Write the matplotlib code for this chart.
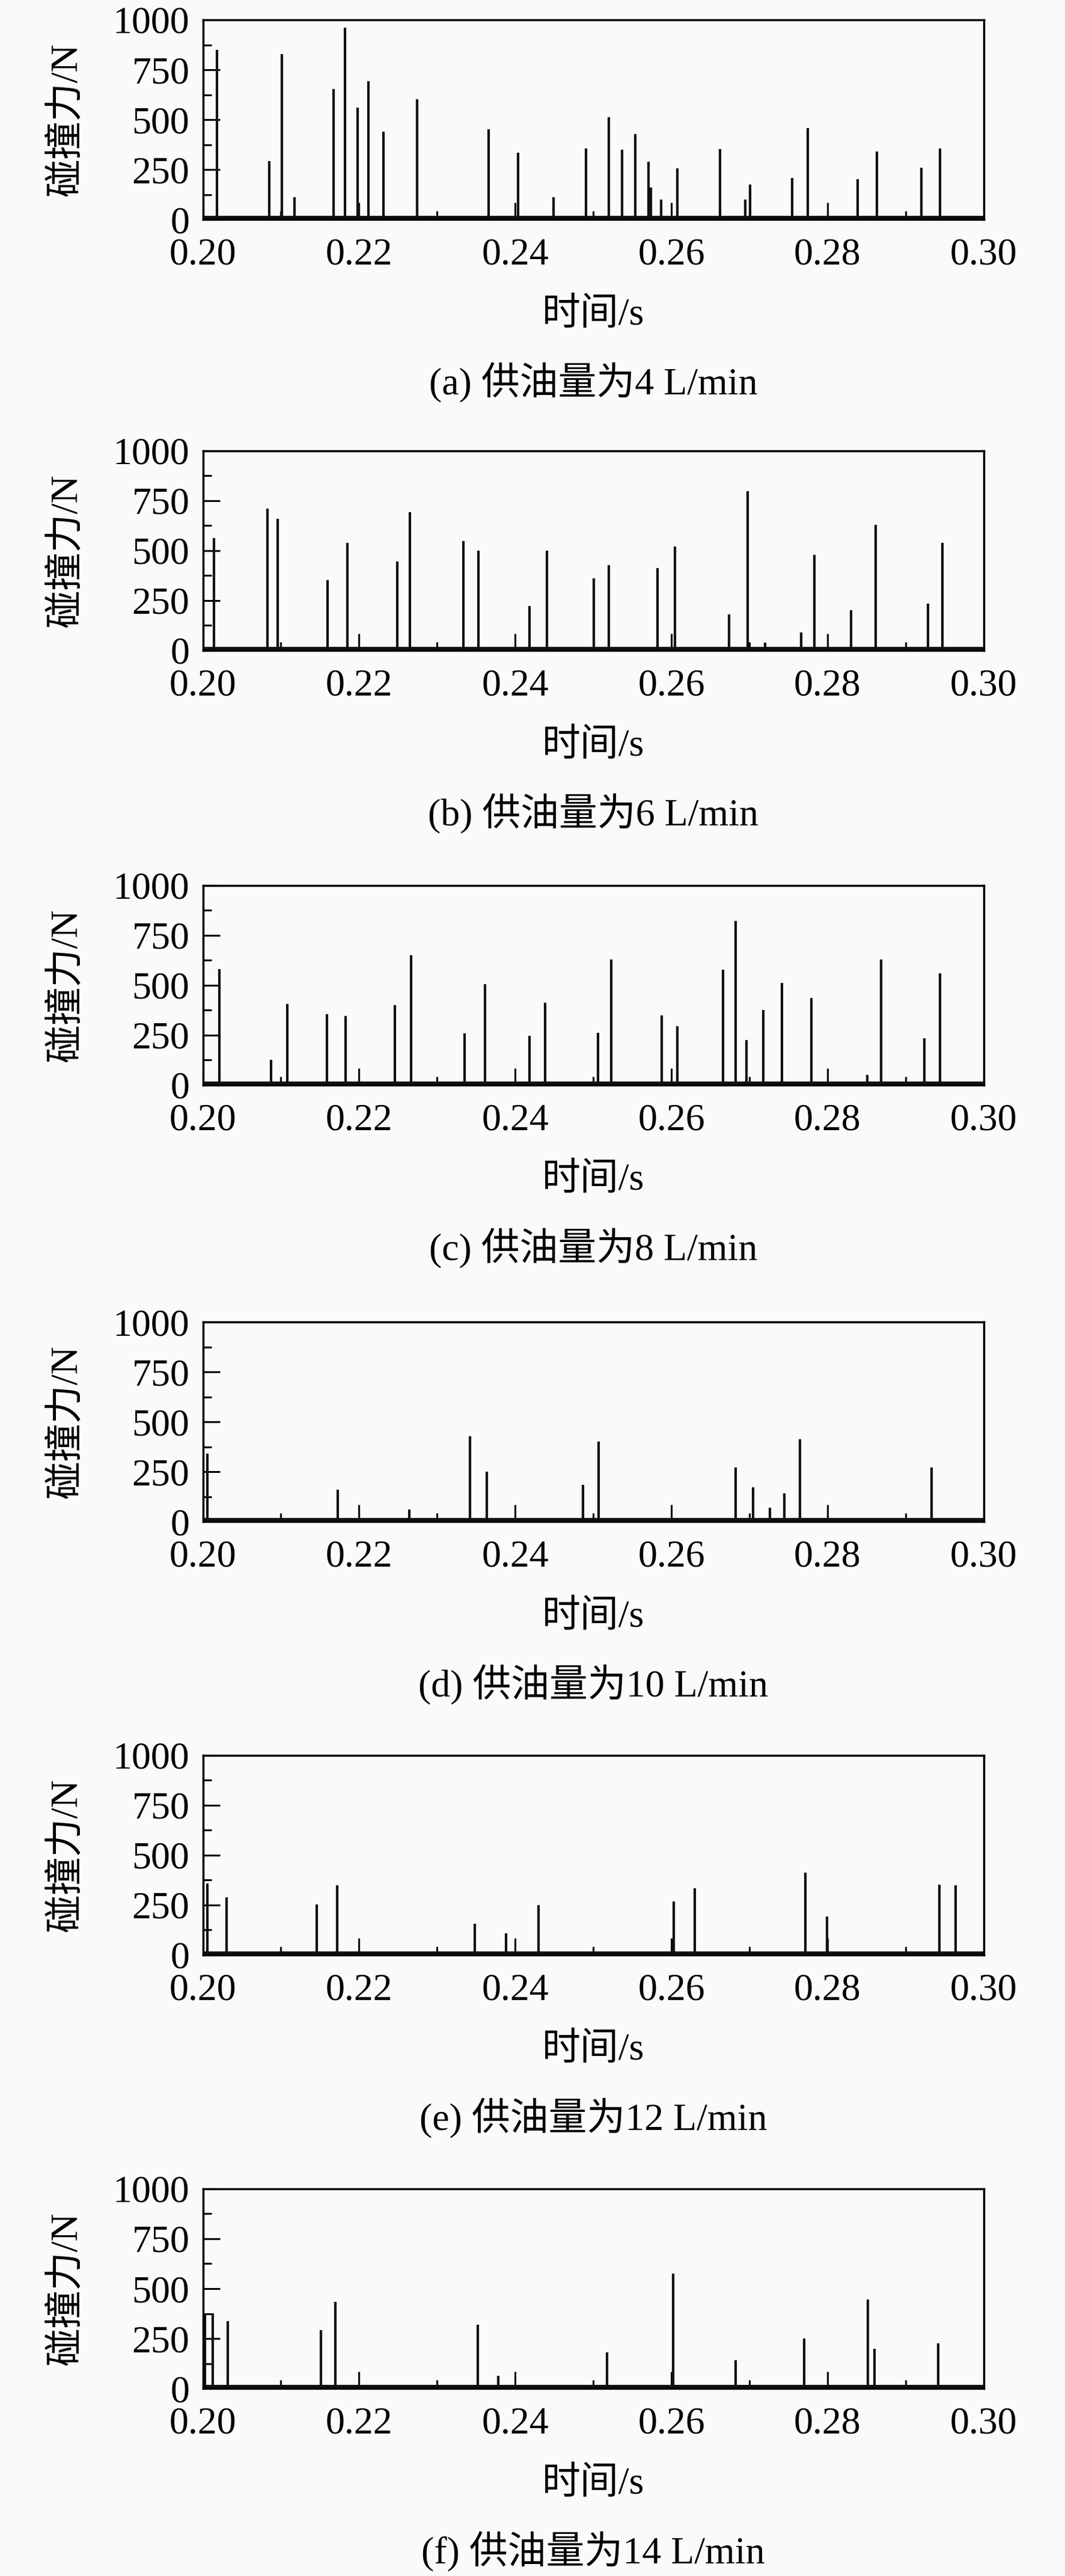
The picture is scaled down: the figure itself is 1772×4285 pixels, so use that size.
import matplotlib
matplotlib.use("Agg")
import matplotlib.pyplot as plt
from matplotlib.ticker import MultipleLocator, FormatStrFormatter

plt.rcParams['font.family'] = ['Liberation Serif', 'Noto Sans CJK SC']
plt.rcParams['font.size'] = 46

# spike times (s) and peak collision force (N)
t_a = [0.2018, 0.2085, 0.2101, 0.2117, 0.2167, 0.2182, 0.2198, 0.2212, 0.2231, 0.2274,
       0.2366, 0.2404, 0.2449, 0.2491, 0.2520, 0.2537, 0.2554, 0.2571, 0.2574, 0.2587,
       0.2608, 0.2662, 0.2695, 0.2701, 0.2755, 0.2775, 0.2839, 0.2863, 0.2920, 0.2944]
f_a = [850, 293, 828, 112, 653, 962, 560, 692, 440, 602,
       453, 335, 112, 355, 513, 350, 428, 290, 160, 100,
       257, 352, 100, 175, 207, 458, 202, 342, 260, 355]

t_b = [0.2014, 0.2083, 0.2096, 0.2160, 0.2185, 0.2249, 0.2265, 0.2334, 0.2353, 0.2418,
       0.2441, 0.2501, 0.2520, 0.2582, 0.2605, 0.2674, 0.2698, 0.2720, 0.2766, 0.2783,
       0.2830, 0.2862, 0.2929, 0.2947]
f_b = [563, 712, 658, 353, 540, 447, 692, 547, 500, 223,
       500, 360, 427, 413, 520, 180, 798, 38, 90, 478,
       203, 630, 235, 540]

t_c = [0.2021, 0.2087, 0.2108, 0.2159, 0.2183, 0.2246, 0.2267, 0.2335, 0.2361, 0.2418,
       0.2438, 0.2506, 0.2523, 0.2588, 0.2608, 0.2666, 0.2682, 0.2696, 0.2718, 0.2742,
       0.2779, 0.2851, 0.2869, 0.2924, 0.2944]
f_c = [580, 125, 405, 355, 345, 400, 650, 257, 505, 245,
       412, 263, 630, 350, 295, 577, 822, 225, 375, 512,
       435, 52, 630, 235, 560]

t_d = [0.2006, 0.2173, 0.2264, 0.2342, 0.2364, 0.2487, 0.2507, 0.2682, 0.2705, 0.2726,
       0.2745, 0.2765, 0.2933]
f_d = [342, 160, 62, 428, 251, 185, 400, 271, 173, 69,
       142, 413, 271]

t_e = [0.2006, 0.2030, 0.2146, 0.2172, 0.2348, 0.2388, 0.2430, 0.2603, 0.2630, 0.2772,
       0.2799, 0.2943, 0.2964]
f_e = [358, 288, 252, 350, 156, 108, 249, 267, 333, 413,
       192, 353, 350]

t_f = [0.2003, 0.2013, 0.2032, 0.2151, 0.2170, 0.2352, 0.2378, 0.2518, 0.2602, 0.2682,
       0.2770, 0.2852, 0.2860, 0.2942]
f_f = [378, 378, 338, 293, 434, 318, 64, 182, 575, 141,
       251, 445, 200, 225]

captions = ['(a) 供油量为4 L/min', '(b) 供油量为6 L/min', '(c) 供油量为8 L/min',
            '(d) 供油量为10 L/min', '(e) 供油量为12 L/min', '(f) 供油量为14 L/min']
times = [t_a, t_b, t_c, t_d, t_e, t_f]
forces = [f_a, f_b, f_c, f_d, f_e, f_f]
noise_level = [8, 8, 8, 8, 8, 8]

bg = '#fafafa'
fig = plt.figure(figsize=(17.72, 42.85), dpi=100, facecolor=bg)

bottoms = [0.9148, 0.7475, 0.5788, 0.4093, 0.2411, 0.0728]
left, width, height = 0.1905, 0.7331, 0.0775

for i in range(6):
    ax = fig.add_axes([left, bottoms[i], width, height], facecolor=bg)
    ax.hlines(noise_level[i], 0.20, 0.30, color='#111111', lw=5)
    ax.vlines(times[i], 0, forces[i], color='#111111', lw=3)

    ax.set_xlim(0.20, 0.30)
    ax.set_ylim(0, 1000)
    ax.xaxis.set_major_locator(MultipleLocator(0.02))
    ax.xaxis.set_minor_locator(MultipleLocator(0.01))
    ax.xaxis.set_major_formatter(FormatStrFormatter('%.2f'))
    ax.yaxis.set_major_locator(MultipleLocator(250))
    ax.yaxis.set_minor_locator(MultipleLocator(125))
    ax.tick_params(which='both', direction='in', top=False, right=False, width=2.2)
    ax.tick_params(which='major', length=20)
    ax.tick_params(which='minor', length=10)
    ax.tick_params(axis='x', which='major', pad=22)
    ax.tick_params(axis='y', which='major', pad=16)
    for s in ax.spines.values():
        s.set_linewidth(2.5)

    ax.set_xlabel('时间/s', va='center')
    ax.xaxis.set_label_coords(0.5, -0.48)
    ax.set_ylabel('碰撞力/N', va='center')
    ax.yaxis.set_label_coords(-0.175, 0.5)

    fig.text(left + width / 2, bottoms[i] - 0.0635, captions[i], ha='center', va='center')

fig.savefig('out.png', dpi=100, facecolor=bg)
